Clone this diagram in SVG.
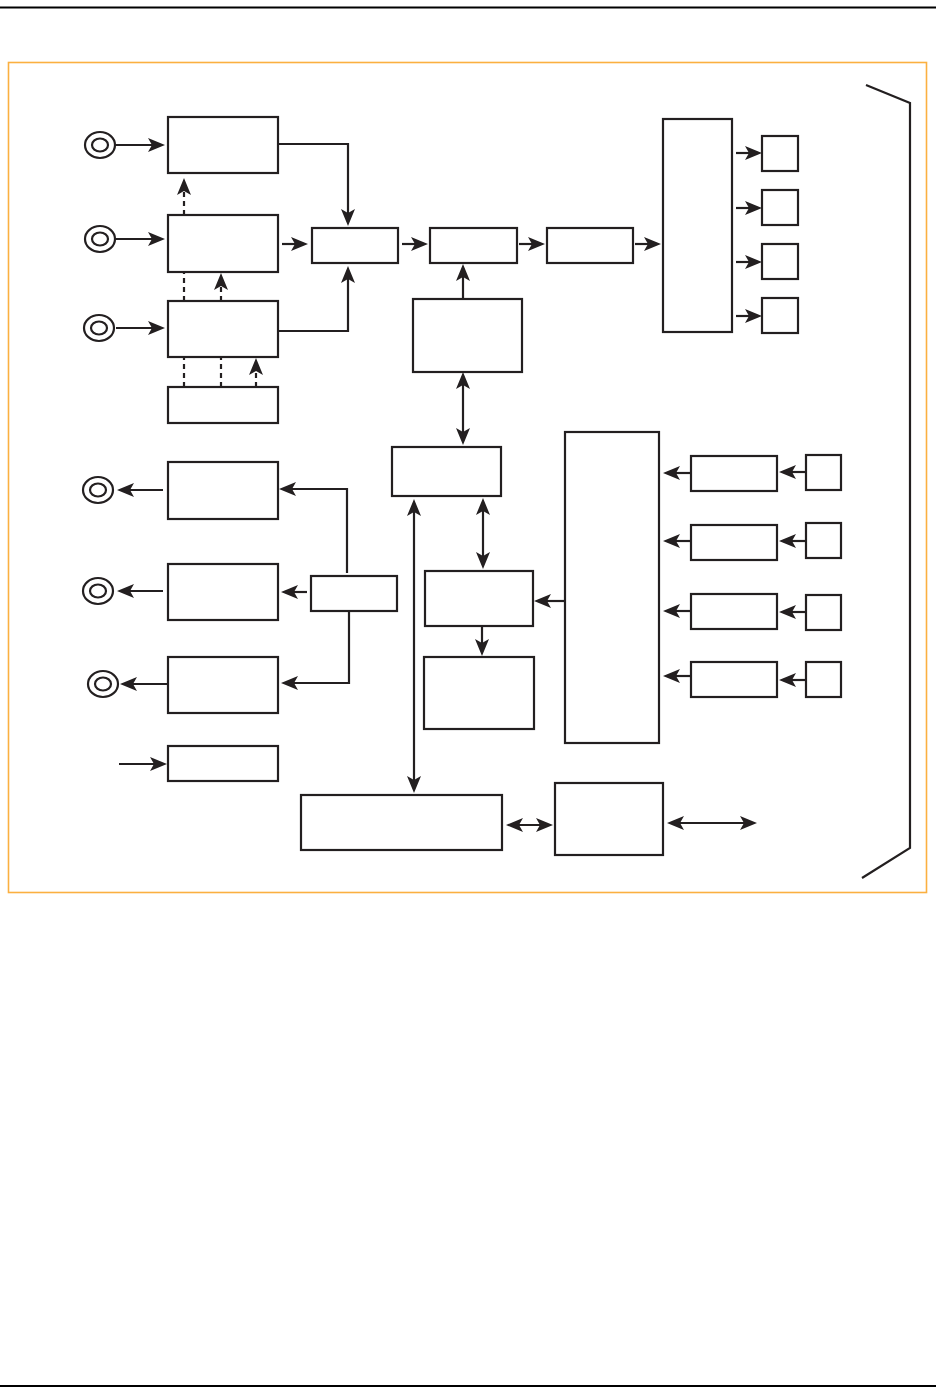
<svg xmlns="http://www.w3.org/2000/svg" width="936" height="1394" viewBox="0 0 936 1394">
<style>
.box{fill:#fff;stroke:#231f20;stroke-width:2.2}
.ln{fill:none;stroke:#231f20;stroke-width:2.2}
.ar{marker-end:url(#ah)}
.da{marker-start:url(#ah);marker-end:url(#ah)}
.dash{stroke-dasharray:5 4}
.jk{fill:none;stroke:#231f20;stroke-width:2.2}
</style>
<defs>
<marker id="ah" viewBox="0 0 17 14" refX="13" refY="7" markerWidth="17" markerHeight="14" markerUnits="userSpaceOnUse" orient="auto-start-reverse">
<path d="M0,0 L17,7 L0,14 L4,7 Z" fill="#231f20"/>
</marker>
</defs>
<rect width="936" height="1394" fill="#fff"/>
<line x1="0" y1="7.5" x2="936" y2="7.5" stroke="#000" stroke-width="2"/>
<line x1="0" y1="1386" x2="936" y2="1386" stroke="#000" stroke-width="2"/>
<rect id="frame" x="8.5" y="62.5" width="918" height="830" fill="none" stroke="#fbb040" stroke-width="1.6"/>
<path id="bracket" class="ln" d="M866,85 L910,103 V848 L862,878"/>

<g id="jacks">
<g id="jack-in1"><ellipse class="jk" cx="100" cy="145" rx="15" ry="13"/><ellipse class="jk" cx="100" cy="145" rx="8" ry="6.5"/></g>
<g id="jack-in2"><ellipse class="jk" cx="100" cy="239" rx="15" ry="13"/><ellipse class="jk" cx="100" cy="239" rx="8" ry="6.5"/></g>
<g id="jack-in3"><ellipse class="jk" cx="99" cy="328" rx="15" ry="13"/><ellipse class="jk" cx="99" cy="328" rx="8" ry="6.5"/></g>
<g id="jack-out1"><ellipse class="jk" cx="98" cy="490" rx="15" ry="13"/><ellipse class="jk" cx="98" cy="490" rx="8" ry="6.5"/></g>
<g id="jack-out2"><ellipse class="jk" cx="98" cy="591" rx="15" ry="13"/><ellipse class="jk" cx="98" cy="591" rx="8" ry="6.5"/></g>
<g id="jack-out3"><ellipse class="jk" cx="103" cy="684" rx="15" ry="13"/><ellipse class="jk" cx="103" cy="684" rx="8" ry="6.5"/></g>
</g>

<g id="A1"><rect class="box" x="168" y="117" width="110" height="56"/></g>
<g id="A2"><rect class="box" x="168" y="215" width="110" height="57"/></g>
<g id="A3"><rect class="box" x="168" y="301" width="110" height="56"/></g>
<g id="A4"><rect class="box" x="168" y="387" width="110" height="36"/></g>
<g id="B1"><rect class="box" x="312" y="228" width="86" height="35"/></g>
<g id="B2"><rect class="box" x="430" y="228" width="87" height="35"/></g>
<g id="B3"><rect class="box" x="547" y="228" width="86" height="35"/></g>
<g id="B4"><rect class="box" x="413" y="299" width="109" height="73"/></g>
<g id="C"><rect class="box" x="663" y="119" width="69" height="213"/></g>
<g id="S1"><rect class="box" x="762" y="136" width="36" height="35"/></g>
<g id="S2"><rect class="box" x="762" y="190" width="36" height="35"/></g>
<g id="S3"><rect class="box" x="762" y="244" width="36" height="35"/></g>
<g id="S4"><rect class="box" x="762" y="298" width="36" height="35"/></g>
<g id="D"><rect class="box" x="392" y="447" width="109" height="49"/></g>
<g id="E"><rect class="box" x="425" y="571" width="108" height="55"/></g>
<g id="F"><rect class="box" x="424" y="657" width="110" height="72"/></g>
<g id="G"><rect class="box" x="565" y="432" width="94" height="311"/></g>
<g id="L1"><rect class="box" x="691" y="456" width="86" height="35"/></g>
<g id="L2"><rect class="box" x="691" y="525" width="86" height="35"/></g>
<g id="L3"><rect class="box" x="691" y="594" width="86" height="35"/></g>
<g id="L4"><rect class="box" x="691" y="662" width="86" height="35"/></g>
<g id="M1"><rect class="box" x="806" y="455" width="35" height="35"/></g>
<g id="M2"><rect class="box" x="806" y="523" width="35" height="35"/></g>
<g id="M3"><rect class="box" x="806" y="595" width="35" height="35"/></g>
<g id="M4"><rect class="box" x="806" y="662" width="35" height="35"/></g>
<g id="J1"><rect class="box" x="168" y="462" width="110" height="57"/></g>
<g id="J2"><rect class="box" x="168" y="564" width="110" height="56"/></g>
<g id="J3"><rect class="box" x="168" y="657" width="110" height="56"/></g>
<g id="J4"><rect class="box" x="168" y="746" width="110" height="35"/></g>
<g id="K"><rect class="box" x="311" y="576" width="86" height="35"/></g>
<g id="H"><rect class="box" x="301" y="795" width="201" height="55"/></g>
<g id="I"><rect class="box" x="555" y="783" width="108" height="72"/></g>

<g id="connectors">
<path class="ln ar" d="M116,145 H161"/>
<path class="ln ar" d="M116,239 H161"/>
<path class="ln ar" d="M116,328 H161"/>
<path class="ln dash ar" d="M184,215 V182"/>
<path class="ln dash" d="M184,301 V272"/>
<path class="ln dash ar" d="M221,301 V277"/>
<path class="ln dash" d="M184,387 V357"/>
<path class="ln dash" d="M221,387 V357"/>
<path class="ln dash ar" d="M256,387 V362"/>
<path class="ln ar" d="M282,244 H304"/>
<path class="ln ar" d="M278,144 H348 V222"/>
<path class="ln ar" d="M278,331 H348 V270"/>
<path class="ln ar" d="M402,244 H424"/>
<path class="ln ar" d="M519,244 H541"/>
<path class="ln ar" d="M635,244 H657"/>
<path class="ln ar" d="M736,153 H758"/>
<path class="ln ar" d="M736,208 H758"/>
<path class="ln ar" d="M736,262 H758"/>
<path class="ln ar" d="M736,316 H758"/>
<path class="ln ar" d="M463,299 V268"/>
<path class="ln da" d="M463,376 V441"/>
<path class="ln da" d="M483,502 V565"/>
<path class="ln ar" d="M482,626 V652"/>
<path class="ln ar" d="M565,601 H538"/>
<path class="ln da" d="M414,503 V789"/>
<path class="ln da" d="M510,825 H549"/>
<path class="ln da" d="M671,823 H753"/>
<path class="ln ar" d="M691,473 H667"/>
<path class="ln ar" d="M691,541 H667"/>
<path class="ln ar" d="M691,611 H667"/>
<path class="ln ar" d="M691,676 H667"/>
<path class="ln ar" d="M806,472 H783"/>
<path class="ln ar" d="M806,541 H783"/>
<path class="ln ar" d="M806,612 H783"/>
<path class="ln ar" d="M806,680 H783"/>
<path class="ln ar" d="M163,490 H121"/>
<path class="ln ar" d="M163,591 H121"/>
<path class="ln ar" d="M168,684 H124"/>
<path class="ln ar" d="M119,764 H163"/>
<path class="ln ar" d="M307,592 H285"/>
<path class="ln ar" d="M347,573 V489 H283"/>
<path class="ln ar" d="M349,611 V683 H285"/>
</g>
</svg>
